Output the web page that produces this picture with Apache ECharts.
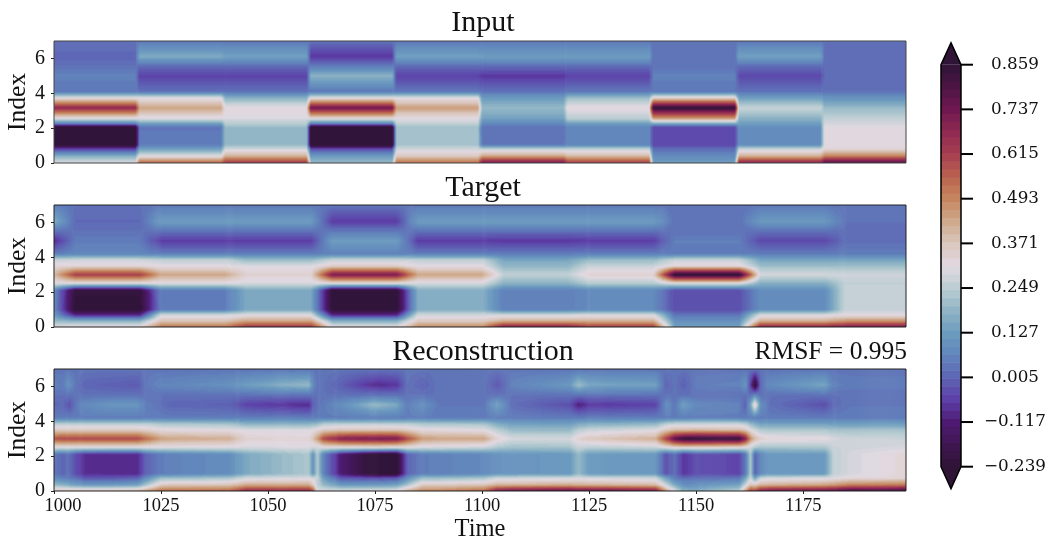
<!DOCTYPE html>
<html><head><meta charset="utf-8">
<script src="https://cdn.jsdelivr.net/npm/echarts@6/dist/echarts.min.js"></script>
<style>html,body{margin:0;padding:0;background:#fff}#c{width:1052px;height:541px;filter:blur(0.4px)}</style>
</head><body><div id="c"></div>
<script>
// ---- colour scale ----
const colorMin = -0.239, colorMax = 0.859, colorBands = 50, fieldBands = 90;
const colorbarLabels = ['\u22120.239','\u22120.117','0.005','0.127','0.249','0.371','0.493','0.615','0.737','0.859'];
const colorbarTicks = [0,1,2,3,4,5,6,7,8,9];
const cmapStops = [[0,'#2f1436'],[.055,'#3f1650'],[.111,'#4e1a72'],[.167,'#5d3fa8'],[.222,'#5e64b4'],[.278,'#6185bc'],[.333,'#6c9bbf'],[.389,'#8fb4c5'],[.444,'#bacdd2'],[.5,'#e2d9e2'],[.555,'#dac7bf'],[.611,'#cfa98c'],[.667,'#c6865f'],[.722,'#b9624f'],[.778,'#a63e50'],[.833,'#912a52'],[.889,'#701850'],[.944,'#4d1545'],[1,'#2f1436']];
const xTicks = [1000,1025,1050,1075,1100,1125,1150,1175];
const yTicks = [0,2,4,6];

// ---- Input: one column per 20-step segment, bottom-to-top at inputLevels ----
const inputLevels = [0,.4,.8,1.05,2.05,2.25,2.55,3.17,3.75,4.1,5,5.55,6.1,7];
const inputSpans = [[1000,1019],[1020,1039],[1040,1059],[1060,1079],[1080,1099],[1100,1119],[1120,1139],[1140,1159],[1160,1179],[1180,1199]];
const inputColumns = [
 [.30,.17,-.05,-.26,-.26,.05,.30,.68,.30,.04,.06,.03,.01,.03],
 [.56,.31,.14,.05,.04,.13,.30,.44,.30,.03,-.05,.02,.16,.04],
 [.64,.42,.28,.20,.20,.24,.30,.32,.17,.03,-.05,.02,.14,.04],
 [.20,.12,-.03,-.27,-.27,.05,.32,.74,.30,.04,.18,.05,-.07,.03],
 [.53,.36,.28,.22,.22,.26,.31,.45,.30,.04,-.05,.02,.14,.04],
 [.74,.44,.26,.04,.03,.08,.14,.20,.12,.03,-.07,.02,.13,.04],
 [.63,.40,.26,.07,.07,.13,.25,.32,.20,.04,-.05,.02,.13,.04],
 [.13,.08,.02,-.04,-.04,.15,.45,.86,.33,.04,.06,.03,.03,.03],
 [.70,.42,.27,.09,.09,.13,.18,.27,.13,.03,-.04,.02,.14,.04],
 [.80,.50,.33,.31,.31,.29,.26,.20,.10,.03,.02,.02,.025,.03]
];

// ---- Target ----
const targetLevels = [0,.35,.7,1,2.1,2.5,3,3.5,3.85,4.2,4.95,5.5,6.05,7];
const targetSpans = [[1000,1000],[1005,1020],[1025,1040],[1045,1060],[1065,1080],[1085,1100],[1105,1120],[1125,1140],[1145,1160],[1165,1180],[1185,1199]];
const targetColumns = [
 [.30,.20,.12,.08,.08,.30,.40,.33,.27,.05,-.09,.03,.17,.05],
 [.33,.18,-.10,-.24,-.22,.30,.62,.33,.28,.07,.05,.03,.015,.03],
 [.52,.38,.28,.05,.05,.30,.44,.31,.26,.05,-.06,.03,.13,.04],
 [.64,.44,.30,.16,.16,.29,.34,.30,.20,.05,-.06,.03,.13,.04],
 [.31,.17,-.10,-.24,-.24,.31,.72,.35,.27,.06,.13,.04,-.06,.04],
 [.48,.36,.28,.17,.17,.29,.44,.31,.26,.05,-.06,.03,.13,.04],
 [.70,.42,.28,.06,.06,.18,.26,.19,.15,.05,-.07,.03,.13,.04],
 [.62,.42,.29,.08,.08,.24,.34,.27,.20,.05,-.06,.03,.13,.04],
 [.14,.10,.03,-.03,-.03,.30,.87,.33,.27,.05,.055,.03,.03,.03],
 [.68,.42,.29,.09,.09,.17,.29,.21,.15,.05,-.04,.03,.12,.04],
 [.72,.47,.31,.27,.27,.26,.28,.21,.15,.05,.025,.025,.03,.03]
];

// ---- Reconstruction: one array per level, one entry per reconKnots time ----
const reconKnots = [1000,1002,1003.5,1005,1007,1013,1019.5, 1021.5,1025,1027,1041,1045, 1059.5,1060.5,1061.5,1063,1067, 1075,1080,1082.5,1086,1090, 1100.5,1103.5,1107,1120.5,1122.5, 1125,1140.5,1143,1145,1147, 1150,1160,1161.5,1162.7,1163.7, 1165,1167,1180,1182,1186,1199];
const reconLevels = [0,.35,.75,1,2.1,2.5,3,3.5,3.85,4.2,4.95,5.5,6.08,7];
const recon0 = [.38,.38,.38,.38,.38,.38,.40, .45,.54,.54,.55,.68, .68,.60,.30,.30,.30, .31,.32,.42,.50,.50, .55,.72,.76,.78,.76, .78,.72,.45,.30,.18, .17,.25,.45,.62,.60, .70,.74,.76,.78,.82,.84];
const recon035 = [.20,.18,.16,.14,.12,.12,.14, .22,.36,.37,.38,.43, .43,.36,.26,.20,.12, .12,.14,.22,.36,.36, .38,.42,.42,.43,.42, .42,.40,.27,.16,.10, .10,.14,.27,.38,.36, .41,.42,.44,.46,.50,.52];
const recon075 = [.08,.06,.04,.03,-.02,-.02,0, .08,.20,.20,.22,.28, .29,.28,.27,.12,-.02, -.04,-.02,.08,.20,.20, .22,.27,.27,.28,.29, .28,.27,.13,.05,.02, .02,.03,.14,.28,.14, .26,.28,.29,.30,.32,.33];
const reconBlock1 = [.04,.01,.03,-.03,-.08,-.09,-.09, 0,.05,.06,.09,.16, .23,.10,.24,.06,-.12, -.25,-.25,0,.05,.06, .08,.10,.11,.12,.20, .12,.12,-.03,.03,-.07, -.03,-.05,.04,.24,0, .08,.12,.12,.26,.29,.33];
const reconBlock2 = [.04,.01,.03,-.03,-.08,-.09,-.09, 0,.05,.06,.09,.16, .23,.10,.24,.06,-.12, -.25,-.25,0,.05,.06, .08,.10,.11,.12,.20, .12,.12,-.03,.03,-.07, -.03,-.05,.04,.24,0, .08,.12,.12,.26,.29,.33];
const recon25 = [.30,.30,.30,.30,.30,.30,.30, .30,.30,.30,.30,.29, .30,.28,.28,.31,.31, .32,.31,.31,.29,.29, .27,.23,.21,.22,.27, .25,.27,.31,.33,.34, .34,.33,.31,.28,.24, .22,.22,.23,.27,.28,.29];
const recon3 = [.58,.60,.60,.60,.60,.60,.60, .54,.45,.44,.42,.34, .33,.38,.46,.60,.70, .73,.72,.60,.46,.44, .44,.34,.29,.29,.34, .37,.42,.62,.78,.85, .87,.85,.70,.48,.40, .35,.33,.32,.29,.28,.27];
const recon35 = [.36,.36,.36,.36,.36,.36,.36, .35,.32,.32,.31,.30, .30,.31,.33,.36,.38, .38,.38,.36,.32,.32, .31,.25,.20,.20,.25, .27,.30,.37,.40,.40, .41,.40,.37,.31,.28, .24,.23,.23,.22,.22,.22];
const recon385 = [.25,.25,.25,.25,.25,.25,.25, .25,.23,.23,.22,.18, .18,.19,.20,.24,.25, .25,.25,.25,.23,.23, .22,.16,.13,.13,.16, .17,.19,.25,.27,.27, .27,.27,.25,.20,.17, .14,.14,.14,.13,.13,.13];
const recon42 = [.05,.05,.05,.05,.05,.05,.05, .05,.05,.05,.05,.05, .05,.05,.05,.05,.05, .05,.05,.05,.05,.05, .05,.05,.05,.05,.05, .05,.05,.05,.05,.05, .05,.05,.05,.05,.05, .05,.05,.05,.05,.05,.05];
const recon495 = [.01,.02,-.03,.04,.08,.11,.11, .05,.03,.01,0,-.05, -.09,0,.03,.05,.09, .20,.16,.05,.10,.04, .04,.14,.02,-.03,-.11, -.07,-.05,.09,.04,.14, .07,.06,0,.15,.36, .10,.03,-.03,.02,.04,.04];
const recon55 = [.03,.03,.03,.03,.03,.03,.03, .03,.03,.03,.03,.03, .03,.03,.03,.03,.03, .03,.03,.03,.03,.03, .03,.03,.03,.03,.03, .03,.03,.03,.03,.03, .03,.03,.03,.03,.08, .03,.03,.03,.03,.03,.03];
const recon608 = [.06,.05,.10,.04,.01,0,-.01, .04,.07,.07,.10,.13, .20,.08,.04,.03,0, -.09,-.07,.03,0,.04, .04,-.02,.06,.12,.21, .15,.14,0,.04,0, .05,.06,.11,-.05,-.25, .02,.08,.15,.06,.05,.05];
const recon7 = [.035,.035,.035,.035,.035,.035,.035, .035,.035,.035,.035,.035, .035,.035,.035,.035,.035, .035,.035,.035,.035,.035, .035,.035,.035,.035,.035, .035,.035,.035,.035,.035, .035,.035,.035,.035,.035, .035,.035,.035,.035,.035,.035];
const reconRows = [recon0,recon035,recon075,reconBlock1,reconBlock2,recon25,recon3,recon35,recon385,recon42,recon495,recon55,recon608,recon7];

// ---- helpers ----
function hexRgb(h){return [parseInt(h.slice(1,3),16),parseInt(h.slice(3,5),16),parseInt(h.slice(5,7),16)];}
const cmapRgb = cmapStops.map(s=>[s[0],hexRgb(s[1])]);
function cmapAt(f){
  f=Math.max(0,Math.min(1,f));
  for(let i=1;i<cmapRgb.length;i++){
    if(f<=cmapRgb[i][0]){
      const a=cmapRgb[i-1],b=cmapRgb[i],u=(f-a[0])/(b[0]-a[0]);
      return 'rgb('+a[1].map((c,n)=>Math.round(c+(b[1][n]-c)*u)).join(',')+')';
    }
  }
  return 'rgb(47,20,54)';
}
function valueColor(v){
  const f=(v-colorMin)/(colorMax-colorMin);
  const band=Math.max(0,Math.min(fieldBands-1,Math.floor(f*fieldBands)));
  return cmapAt((band+.5)/fieldBands);
}
function holdColumns(spans,cols){
  const knots=[],out=[];
  spans.forEach((s,i)=>{knots.push(s[0]);out.push(cols[i]);if(s[1]!==s[0]){knots.push(s[1]);out.push(cols[i]);}});
  return {knots,cols:out};
}
function transposeRows(rows){return rows[0].map((_,c)=>rows.map(r=>r[c]));}
function levelValue(levels,col,y){
  for(let i=1;i<levels.length;i++){
    if(y<=levels[i]){const u=(y-levels[i-1])/(levels[i]-levels[i-1]);return col[i-1]+(col[i]-col[i-1])*u;}
  }
  return col[col.length-1];
}
function fieldSeries(grid,levels,knots,cols){
  const data=[];
  for(let k=0;k<knots.length-1;k++)data.push([knots[k],knots[k+1],k]);
  return {
    type:'custom',coordinateSystem:'cartesian2d',xAxisIndex:grid,yAxisIndex:grid,silent:true,clip:true,
    encode:{x:[0,1]},data,z:2,
    renderItem(params,api){
      const k=api.value(2),t0=api.value(0),t1=api.value(1);
      const a=api.coord([t0,0]),b=api.coord([t1,7]);
      const x0=a[0],x1=b[0],yb=a[1],yt=b[1],H=yb-yt;
      const same=cols[k]===cols[k+1];
      const n=same?1:Math.max(1,Math.ceil(x1-x0));
      const N=Math.round(H),children=[];
      for(let s=0;s<n;s++){
        const u=(s+.5)/n,stops=[];
        for(let j=0;j<=N;j++){
          const y=7*(1-j/N);
          const v=levelValue(levels,cols[k],y)*(1-u)+levelValue(levels,cols[k+1],y)*u;
          stops.push({offset:j/N,color:valueColor(v)});
        }
        children.push({type:'rect',shape:{x:x0+(x1-x0)*s/n,y:yt,width:(x1-x0)/n+.7,height:H},
          style:{fill:new echarts.graphic.LinearGradient(0,0,0,1,stops)}});
      }
      return {type:'group',children};
    }
  };
}
function frameSeries(grid,color){
  return {type:'custom',coordinateSystem:'cartesian2d',xAxisIndex:grid,yAxisIndex:grid,silent:true,clip:false,z:5,
    data:[[1000,0,1199,7]],encode:{x:[0,2],y:[1,3]},
    renderItem(p,api){
      const a=api.coord([api.value(0),api.value(1)]),b=api.coord([api.value(2),api.value(3)]);
      return {type:'rect',shape:{x:a[0],y:b[1],width:b[0]-a[0],height:a[1]-b[1]},style:{fill:'none',stroke:color,lineWidth:1}};
    }};
}
const serif='"Liberation Serif"';
const input=holdColumns(inputSpans,inputColumns);
const target=holdColumns(targetSpans,targetColumns);
const reconCols=transposeRows(reconRows);

const gridTops=[41,205,369];
const grids=gridTops.map(t=>({left:54,top:t,width:852,height:122,show:false,outerBoundsMode:'none'}));
grids.push({left:941,top:64.7,width:20,height:402,show:false,outerBoundsMode:'none'});
const xAxes=[0,1,2].map(i=>({
  type:'value',gridIndex:i,min:1000,max:1199,interval:25,
  axisLine:{show:false},splitLine:{show:false},
  axisTick:{show:i===2,length:3,lineStyle:{color:'#222'},customValues:xTicks},
  axisLabel:{show:i===2,customValues:xTicks,margin:6,fontFamily:serif,fontSize:18.5,color:'#111',
    formatter:v=>v===1000?'{first|1000}':String(v),rich:{first:{padding:[0,0,0,18],fontFamily:serif,fontSize:18.5,color:'#111'}}},
  name:i===2?'Time':'',nameLocation:'middle',nameGap:26,
  nameTextStyle:{fontFamily:serif,fontSize:24.5,color:'#111'}
}));
xAxes.push({type:'value',gridIndex:3,min:0,max:1,show:false});
const yAxes=[0,1,2].map(i=>({
  type:'value',gridIndex:i,min:0,max:7,interval:1,
  axisLine:{show:false},splitLine:{show:false},
  axisTick:{show:true,length:3,lineStyle:{color:'#222'},customValues:yTicks},
  axisLabel:{customValues:yTicks,margin:9,fontFamily:serif,fontSize:20,color:'#111'},
  name:'Index',nameLocation:'middle',nameRotate:90,nameGap:23,nameMoveOverlap:false,
  nameTextStyle:{fontFamily:serif,fontSize:25.5,color:'#111'}
}));
yAxes.push({type:'value',gridIndex:3,position:'right',min:0,max:9,interval:1,
  axisLine:{show:false},splitLine:{show:false},axisTick:{show:false},
  axisLabel:{margin:54,align:'center',padding:[3,0,0,0],fontFamily:'"DejaVu Serif"',fontSize:16.8,color:'#111',formatter:v=>colorbarLabels[v]}
});

// colourbar: bands, extension triangles, outline and ticks, on the tick-number axis
const barBands=[];
for(let b=0;b<colorBands;b++)barBands.push([b/colorBands*9,(b+1)/colorBands*9,b]);
const barSeries={type:'custom',coordinateSystem:'cartesian2d',xAxisIndex:3,yAxisIndex:3,silent:true,clip:false,z:2,
  data:barBands,encode:{y:[0,1]},
  renderItem(p,api){
    const a=api.coord([0,api.value(0)]),b=api.coord([1,api.value(1)]);
    return {type:'rect',shape:{x:a[0],y:b[1],width:b[0]-a[0],height:a[1]-b[1]+.6},
      style:{fill:cmapAt((api.value(2)+.5)/colorBands)}};
  }};
const barTicks={type:'custom',coordinateSystem:'cartesian2d',xAxisIndex:3,yAxisIndex:3,silent:true,clip:false,z:6,
  data:colorbarTicks.map(v=>[v]),encode:{y:0},
  renderItem(p,api){
    const a=api.coord([1,api.value(0)]);
    return {type:'line',shape:{x1:a[0],y1:a[1],x2:a[0]+12,y2:a[1]},style:{stroke:'#000',lineWidth:2}};
  }};
const barOutline={type:'custom',coordinateSystem:'cartesian2d',xAxisIndex:3,yAxisIndex:3,silent:true,clip:false,z:4,
  data:[[0]],encode:{y:0},
  renderItem(p,api){
    const pts=[[0,0],[.5,-.49],[1,0],[1,9],[.5,9.49],[0,9]].map(q=>api.coord(q));
    return {type:'group',children:[
      {type:'polygon',shape:{points:[[0,0],[.5,-.49],[1,0]].map(q=>api.coord(q))},style:{fill:'#2f1436'}},
      {type:'polygon',shape:{points:[[0,9],[.5,9.49],[1,9]].map(q=>api.coord(q))},style:{fill:'#2f1436'}},
      {type:'polygon',shape:{points:pts},style:{fill:'none',stroke:'#000',lineWidth:1.5}}
    ]};
  }};

const titleBase={textStyle:{fontFamily:serif,fontWeight:'normal',fontSize:30,color:'#111'}};
const chart=echarts.init(document.getElementById('c'),null,{renderer:'canvas'});
chart.setOption({
  animation:false,backgroundColor:'#fff',
  title:[
    {...titleBase,text:'Input',left:478,top:3,textAlign:'center'},
    {...titleBase,text:'Target',left:478,top:168,textAlign:'center'},
    {...titleBase,text:'Reconstruction',left:478,top:332,textAlign:'center'},
    {text:'RMSF = 0.995',right:140,top:334,textStyle:{fontFamily:serif,fontWeight:'normal',fontSize:25.5,color:'#111'}}
  ],
  grid:grids,xAxis:xAxes,yAxis:yAxes,
  series:[
    fieldSeries(0,inputLevels,input.knots,input.cols),
    fieldSeries(1,targetLevels,target.knots,target.cols),
    fieldSeries(2,reconLevels,reconKnots,reconCols),
    frameSeries(0,'#444'),frameSeries(1,'#222'),frameSeries(2,'#222'),
    barSeries,barOutline,barTicks
  ]
});
</script></body></html>
